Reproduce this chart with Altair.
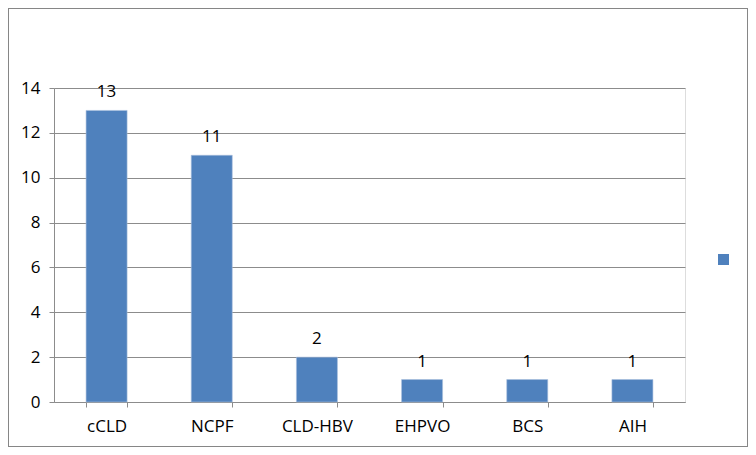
import altair as alt
import pandas as pd

categories = ["cCLD", "NCPF", "CLD-HBV", "EHPVO", "BCS", "AIH"]
counts = [13, 11, 2, 1, 1, 1]
series_name = [""] * len(categories)
y_ticks = [0, 2, 4, 6, 8, 10, 12, 14]

df = pd.DataFrame({"cat": categories, "n": counts, "series": series_name})

W, H = 631, 314
PL, PT, PR, PB = 46, 80, 63, 45
FONT = "Open Sans"
FS = 17
BLUE = "#4F81BD"
GRID = "#8C8C8C"

x_enc = alt.X(
    "cat:N", sort=categories, title=None,
    scale=alt.Scale(paddingInner=0.61, paddingOuter=0.305),
    axis=alt.Axis(labelAngle=0, tickBand="extent", tickSize=5, labelPadding=11,
                  domainColor=GRID, tickColor=GRID, labelFont=FONT, labelFontSize=FS,
                  labelColor="#000000", grid=False),
)
y_enc = alt.Y(
    "n:Q", title=None,
    scale=alt.Scale(domain=[0, 14], nice=False),
    axis=alt.Axis(values=y_ticks, tickSize=5, labelPadding=9, domainColor=GRID,
                  tickColor=GRID, gridColor=GRID, gridWidth=1, labelFont=FONT,
                  labelFontSize=FS, labelColor="#000000"),
)

bars = alt.Chart(df).mark_bar(color=BLUE, stroke="#A9C0DD", strokeWidth=0.6).encode(
    x=x_enc, y=y_enc,
    color=alt.Color("series:N", scale=alt.Scale(range=[BLUE]),
                    legend=alt.Legend(title=None, labelExpr="''", orient="none",
                                      legendX=664, legendY=166, symbolType="square",
                                      symbolSize=121, symbolStrokeWidth=0, padding=0)),
)
labels = alt.Chart(df).mark_text(baseline="alphabetic", dy=-13, font=FONT, fontSize=FS,
                                 color="#000000").encode(
    x=alt.X("cat:N", sort=categories), y="n:Q", text="n:Q")

border = alt.Chart(df).mark_rect(fill=None, stroke="#868686", strokeWidth=1, clip=False).encode(
    x=alt.value(-PL + 0.5), x2=alt.value(W + PR - 0.5),
    y=alt.value(-PT + 0.5), y2=alt.value(H + PB - 0.5))

chart = alt.layer(border, bars, labels).properties(
    width=W, height=H,
    autosize=alt.AutoSizeParams(type="none"),
    padding={"left": PL, "top": PT, "right": PR, "bottom": PB},
).configure_view(stroke=None).configure(background="white")

chart.save("out.html", embed_options={"renderer": "svg", "actions": False})
